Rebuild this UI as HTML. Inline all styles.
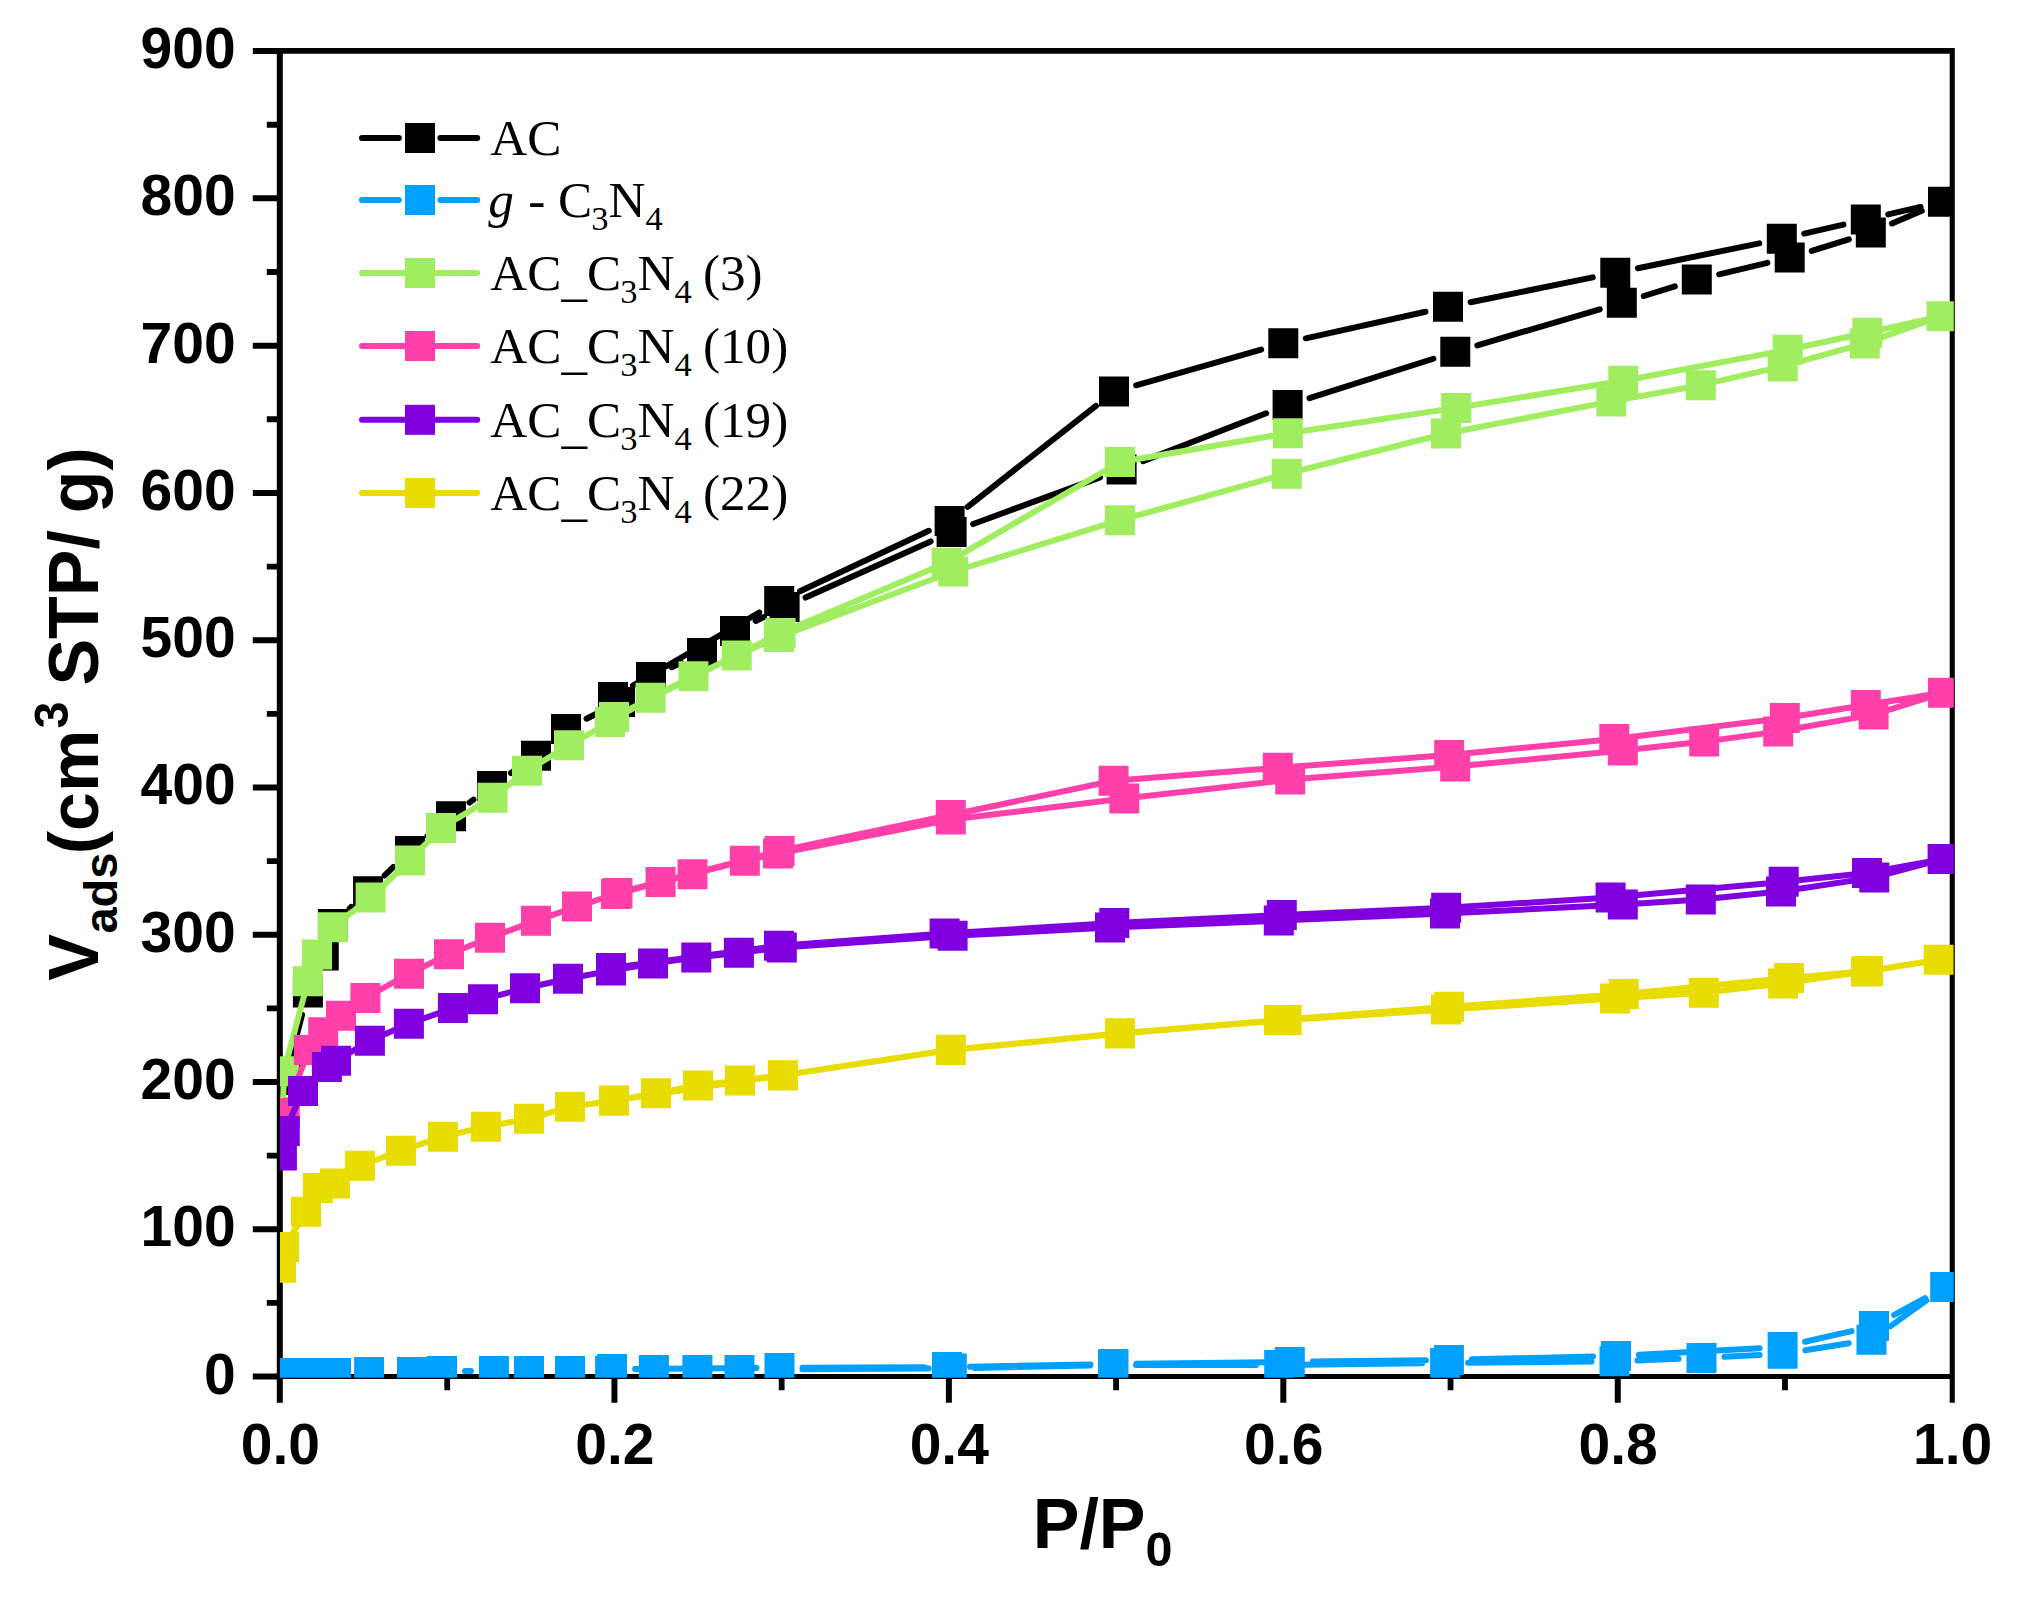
<!DOCTYPE html>
<html lang="en"><head><meta charset="utf-8"><title>N2 adsorption isotherms</title>
<style>html,body{margin:0;padding:0;background:#fff}body{width:2025px;height:1598px;overflow:hidden}svg{display:block}.t{font-family:"Liberation Sans",Arial,sans-serif;font-weight:bold;fill:#000}.l{font-family:"Liberation Serif","Times New Roman",serif;fill:#000}</style></head><body>
<svg width="2025" height="1598" viewBox="0 0 2025 1598">
<rect width="2025" height="1598" fill="#fff"/>
<defs><clipPath id="plot"><rect x="280" y="51" width="1673.8" height="1326.8"/></clipPath></defs>
<path d="M276.8 47.9h1678v5.9h-1678zM276.8 1374h1678v5h-1678zM276.8 47.9h6v1354.9h-6zM1949.7 47.9h5.1v1354.9h-5.1zM252.8 1373.5h24.2v6h-24.2zM252.8 1226.23h24.2v6h-24.2zM252.8 1078.97h24.2v6h-24.2zM252.8 931.7h24.2v6h-24.2zM252.8 784.43h24.2v6h-24.2zM252.8 637.17h24.2v6h-24.2zM252.8 489.9h24.2v6h-24.2zM252.8 342.63h24.2v6h-24.2zM252.8 195.37h24.2v6h-24.2zM252.8 48.1h24.2v6h-24.2zM266.8 1299.97h10.2v5.8h-10.2zM266.8 1152.7h10.2v5.8h-10.2zM266.8 1005.43h10.2v5.8h-10.2zM266.8 858.17h10.2v5.8h-10.2zM266.8 710.9h10.2v5.8h-10.2zM266.8 563.63h10.2v5.8h-10.2zM266.8 416.37h10.2v5.8h-10.2zM266.8 269.1h10.2v5.8h-10.2zM266.8 121.83h10.2v5.8h-10.2zM611.44 1379h6v23.8h-6zM945.88 1379h6v23.8h-6zM1280.32 1379h6v23.8h-6zM1614.76 1379h6v23.8h-6zM444.32 1379h5.8v11.2h-5.8zM778.76 1379h5.8v11.2h-5.8zM1113.2 1379h5.8v11.2h-5.8zM1447.64 1379h5.8v11.2h-5.8zM1782.08 1379h5.8v11.2h-5.8z" fill="#000"/>
<g class="t" font-size="57" text-anchor="end">
<text x="235.6" y="1393.5">0</text>
<text x="235.6" y="1246.23">100</text>
<text x="235.6" y="1098.97">200</text>
<text x="235.6" y="951.7">300</text>
<text x="235.6" y="804.43">400</text>
<text x="235.6" y="657.17">500</text>
<text x="235.6" y="509.9">600</text>
<text x="235.6" y="362.63">700</text>
<text x="235.6" y="215.37">800</text>
<text x="235.6" y="68.1">900</text>
</g>
<g class="t" font-size="57" text-anchor="middle">
<text x="280.4" y="1464.3">0.0</text>
<text x="614.84" y="1464.3">0.2</text>
<text x="949.28" y="1464.3">0.4</text>
<text x="1283.72" y="1464.3">0.6</text>
<text x="1618.16" y="1464.3">0.8</text>
<text x="1952.6" y="1464.3">1.0</text>
</g>
<text class="t" font-size="70" x="1032.7" y="1547.8">P/P<tspan font-size="48.5" dy="17.8">0</tspan></text>
<g class="t" transform="translate(98.2 980.8) rotate(-90)" font-size="70">
<text><tspan x="0" y="0">V</tspan><tspan x="47.2" y="18.6" font-size="47">ads</tspan><tspan x="126.6" y="0">(cm</tspan><tspan x="252.2" y="-29.8" font-size="48.5">3</tspan><tspan x="275.75" y="0"> STP/</tspan><tspan x="448.15" y="0"> g)</tspan></text>
</g>
<g clip-path="url(#plot)" fill="none" stroke-width="6" stroke-linecap="round" stroke-linejoin="round">
<path d="M290.82 1057.75 L302.08 1014.75M349.74 908.33 L351.26 906.92M384.69 875.32 L393.41 866.93M427.54 836.12 L433.46 831.08M469.52 802.56 L473.48 799.64M510.96 772.98 L517.04 768.82M586.57 718.71 L599.43 712.29M671.81 667.21 L681.19 662.79M755.7 620.98 L763.9 617.02M805.58 597.58 L930.62 541.42M973.18 524.05 L1100.02 477.35M1143.04 461.08 L1266.16 413.32M1309.52 398.05 L1433.38 358.75M1477.36 345.31 L1599.74 309.29M1643.77 296 L1674.83 286.4M1719.18 274.3 L1767.32 262.9M1811.67 250.8 L1848.83 239.3M1891.97 223.5 L1921.83 210.8M1920.58 206.94 L1888.22 214.36M1843.38 224.65 L1804.22 233.65M1759.27 243.4 L1637.83 268.2M1592.76 277.38 L1470.54 302.22M1425.54 311.78 L1305.76 338.32M1261.18 349.61 L1136.12 385.29M1095.93 405.83 L967.67 506.77M928.78 530.77 L800.02 591.23M759.28 612.5 L632.92 685.5" stroke="#000000"/>
<path d="M270 1065h30v30h-30zM292.9 977.5h30v30h-30zM308.75 940.6h30v30h-30zM317.9 909h30v30h-30zM353.1 876.25h30v30h-30zM395 836h30v30h-30zM436 801.2h30v30h-30zM477 771h30v30h-30zM521 740.8h30v30h-30zM551 714h30v30h-30zM605 687h30v30h-30zM636 662h30v30h-30zM687 638h30v30h-30zM720 616h30v30h-30zM769.6 592h30v30h-30zM936.6 517h30v30h-30zM1106.6 454.4h30v30h-30zM1272.6 390h30v30h-30zM1440.3 336.8h30v30h-30zM1606.8 287.8h30v30h-30zM1681.8 264.6h30v30h-30zM1774.7 242.6h30v30h-30zM1855.8 217.5h30v30h-30zM1928 186.8h30v30h-30zM1850.8 204.5h30v30h-30zM1766.8 223.8h30v30h-30zM1600.3 257.8h30v30h-30zM1433 291.8h30v30h-30zM1268.3 328.3h30v30h-30zM1099 376.6h30v30h-30zM934.6 506h30v30h-30zM764.2 586h30v30h-30zM598 682h30v30h-30z" fill="#000000" stroke="none"/>
<path d="M465 1371 L470.9 1371M802.5 1369.19 L928.8 1368.61M974.79 1368 L1090.01 1365.5M1136 1365 L1256.2 1365M1302.2 1364.72 L1422.1 1363.28M1468.1 1362.77 L1591.5 1361.53M1637.48 1360.4 L1678.52 1358.8M1724.47 1356.74 L1759.63 1354.96M1805.32 1350.2 L1848.78 1343.3M1890.21 1326.32 L1926.49 1300.38M1925.03 1298.05 L1894.17 1314.95M1851.58 1331.13 L1805.02 1341.77M1759.63 1348.15 L1638.97 1354.75M1593.01 1356.54 L1471.89 1359.36M1425.9 1360.19 L1312.8 1361.61M1266.8 1362.17 L1136.5 1363.73M1090.5 1364.43 L970 1366.67M924 1367.21 L802.5 1367.79M756.5 1368.06 L635.1 1368.94" stroke="#00A0FF"/>
<path d="M266 1358h30v30h-30zM269 1358h30v30h-30zM278 1358h30v30h-30zM291 1358h30v30h-30zM305 1358h30v30h-30zM321 1358h30v30h-30zM354.1 1357h30v30h-30zM397 1357h30v30h-30zM427 1356h30v30h-30zM478.9 1356h30v30h-30zM514 1356h30v30h-30zM555 1356h30v30h-30zM595.1 1356h30v30h-30zM638.9 1355.1h30v30h-30zM682.4 1355.1h30v30h-30zM724.5 1355.1h30v30h-30zM764.5 1354.3h30v30h-30zM936.8 1353.5h30v30h-30zM1098 1350h30v30h-30zM1264.2 1350h30v30h-30zM1430.1 1348h30v30h-30zM1599.5 1346.3h30v30h-30zM1686.5 1342.9h30v30h-30zM1767.6 1338.8h30v30h-30zM1856.5 1324.7h30v30h-30zM1930.2 1272h30v30h-30zM1859 1311h30v30h-30zM1767.6 1331.9h30v30h-30zM1601 1341h30v30h-30zM1433.9 1344.9h30v30h-30zM1274.8 1346.9h30v30h-30zM1098.5 1349h30v30h-30zM932 1352.1h30v30h-30zM764.5 1352.9h30v30h-30zM597.1 1354.1h30v30h-30z" fill="#00A0FF" stroke="none"/>
<path d="M282.8 1112 L284 1071.25 L307.9 981.25 L317 954.4 L332.9 927.2 L370.6 897.5 L410 860.6 L441 828 L492.5 797.7 L527 770.8 L569 745.3 L610 722 L650.6 697.8 L693.5 676.2 L736.7 655.5 L779 637 L953.2 571.5 L1120 520.2 L1286.8 473.7 L1446 433.5 L1611.3 401.4 L1700.8 385.2 L1782.7 366.4 L1864.8 343.4 L1941.6 316.2 L1867.3 332.8 L1787.7 349.8 L1623.3 380.8 L1456.2 407.9 L1287.8 433.2 L1120 462 L946.6 562.8 L780.6 633 L614 717" stroke="#A0EE60"/>
<path d="M267.8 1097h30v30h-30zM269 1056.25h30v30h-30zM292.9 966.25h30v30h-30zM302 939.4h30v30h-30zM317.9 912.2h30v30h-30zM355.6 882.5h30v30h-30zM395 845.6h30v30h-30zM426 813h30v30h-30zM477.5 782.7h30v30h-30zM512 755.8h30v30h-30zM554 730.3h30v30h-30zM595 707h30v30h-30zM635.6 682.8h30v30h-30zM678.5 661.2h30v30h-30zM721.7 640.5h30v30h-30zM764 622h30v30h-30zM938.2 556.5h30v30h-30zM1105 505.2h30v30h-30zM1271.8 458.7h30v30h-30zM1431 418.5h30v30h-30zM1596.3 386.4h30v30h-30zM1685.8 370.2h30v30h-30zM1767.7 351.4h30v30h-30zM1849.8 328.4h30v30h-30zM1926.6 301.2h30v30h-30zM1852.3 317.8h30v30h-30zM1772.7 334.8h30v30h-30zM1608.3 365.8h30v30h-30zM1441.2 392.9h30v30h-30zM1272.8 418.2h30v30h-30zM1105 447h30v30h-30zM931.6 547.8h30v30h-30zM765.6 618h30v30h-30zM599 702h30v30h-30z" fill="#A0EE60" stroke="none"/>
<path d="M284.75 1113.1 L308.9 1050 L323.2 1032.2 L341 1015.8 L365.4 997.9 L409 973.75 L449 954.3 L490 937.7 L536 920.7 L577 906.6 L616 894 L660.6 882.1 L692.5 874.2 L744.8 860.7 L778 853.6 L950.8 819.6 L1124.3 798.6 L1290.2 779.6 L1455.2 766.6 L1622.8 750.6 L1704.2 741.6 L1778.2 731.6 L1873.6 714.6 L1943 692.8 L1865.8 705 L1784.8 718 L1614.3 739 L1449.2 755 L1277.8 767.8 L1113.6 780.8 L950.8 815 L779.6 851 L617.5 893" stroke="#FF40AA"/>
<path d="M269.75 1098.1h30v30h-30zM293.9 1035h30v30h-30zM308.2 1017.2h30v30h-30zM326 1000.8h30v30h-30zM350.4 982.9h30v30h-30zM394 958.75h30v30h-30zM434 939.3h30v30h-30zM475 922.7h30v30h-30zM521 905.7h30v30h-30zM562 891.6h30v30h-30zM601 879h30v30h-30zM645.6 867.1h30v30h-30zM677.5 859.2h30v30h-30zM729.8 845.7h30v30h-30zM763 838.6h30v30h-30zM935.8 804.6h30v30h-30zM1109.3 783.6h30v30h-30zM1275.2 764.6h30v30h-30zM1440.2 751.6h30v30h-30zM1607.8 735.6h30v30h-30zM1689.2 726.6h30v30h-30zM1763.2 716.6h30v30h-30zM1858.6 699.6h30v30h-30zM1928 677.8h30v30h-30zM1850.8 690h30v30h-30zM1769.8 703h30v30h-30zM1599.3 724h30v30h-30zM1434.2 740h30v30h-30zM1262.8 752.8h30v30h-30zM1098.6 765.8h30v30h-30zM935.8 800h30v30h-30zM764.6 836h30v30h-30zM602.5 878h30v30h-30z" fill="#FF40AA" stroke="none"/>
<path d="M281.9 1155.6 L284.75 1131 L303 1090.9 L326.9 1066.9 L336 1060.8 L369.9 1040.8 L408.9 1023.8 L452.9 1008 L483 999.3 L525 988.3 L568 978.8 L611 970.6 L653 963.5 L696.3 957.4 L738.9 952.7 L781.8 947.6 L952.6 935.8 L1110 927.6 L1278.8 920.6 L1445 913.5 L1622.8 904.6 L1700.8 899.6 L1781 891.5 L1874.3 877.4 L1942.6 859.1 L1867 873 L1783.7 881.8 L1610.6 897.6 L1446.2 907.8 L1281.8 915 L1114.3 923 L944.6 933.5 L779 945.8 L611 968" stroke="#8000E0"/>
<path d="M266.9 1140.6h30v30h-30zM269.75 1116h30v30h-30zM288 1075.9h30v30h-30zM311.9 1051.9h30v30h-30zM321 1045.8h30v30h-30zM354.9 1025.8h30v30h-30zM393.9 1008.8h30v30h-30zM437.9 993h30v30h-30zM468 984.3h30v30h-30zM510 973.3h30v30h-30zM553 963.8h30v30h-30zM596 955.6h30v30h-30zM638 948.5h30v30h-30zM681.3 942.4h30v30h-30zM723.9 937.7h30v30h-30zM766.8 932.6h30v30h-30zM937.6 920.8h30v30h-30zM1095 912.6h30v30h-30zM1263.8 905.6h30v30h-30zM1430 898.5h30v30h-30zM1607.8 889.6h30v30h-30zM1685.8 884.6h30v30h-30zM1766 876.5h30v30h-30zM1859.3 862.4h30v30h-30zM1927.6 844.1h30v30h-30zM1852 858h30v30h-30zM1768.7 866.8h30v30h-30zM1595.6 882.6h30v30h-30zM1431.2 892.8h30v30h-30zM1266.8 900h30v30h-30zM1099.3 908h30v30h-30zM929.6 918.5h30v30h-30zM764 930.8h30v30h-30zM596 953h30v30h-30z" fill="#8000E0" stroke="none"/>
<path d="M281 1267.75 L284 1246.9 L306 1211.8 L317.8 1188 L334.9 1183.6 L359.9 1165.75 L400.9 1150.8 L442.9 1136.7 L485.9 1126.7 L529 1118.8 L570 1106.7 L614 1100.8 L656 1093.3 L698 1085.4 L740 1080.4 L782.9 1075.4 L950.8 1050.1 L1120 1033.6 L1286.6 1020.1 L1446 1009.6 L1615 998.6 L1703.8 992.8 L1783.1 983.4 L1866 971.6 L1938.7 959.8 L1868 971 L1789 977.9 L1623.7 994 L1449 1006.8 L1279 1020.1 L1120 1033.2 L950.8 1049.8 L782.9 1075.2 L614 1100.6" stroke="#E8DC00"/>
<path d="M266 1252.75h30v30h-30zM269 1231.9h30v30h-30zM291 1196.8h30v30h-30zM302.8 1173h30v30h-30zM319.9 1168.6h30v30h-30zM344.9 1150.75h30v30h-30zM385.9 1135.8h30v30h-30zM427.9 1121.7h30v30h-30zM470.9 1111.7h30v30h-30zM514 1103.8h30v30h-30zM555 1091.7h30v30h-30zM599 1085.8h30v30h-30zM641 1078.3h30v30h-30zM683 1070.4h30v30h-30zM725 1065.4h30v30h-30zM767.9 1060.4h30v30h-30zM935.8 1035.1h30v30h-30zM1105 1018.6h30v30h-30zM1271.6 1005.1h30v30h-30zM1431 994.6h30v30h-30zM1600 983.6h30v30h-30zM1688.8 977.8h30v30h-30zM1768.1 968.4h30v30h-30zM1851 956.6h30v30h-30zM1923.7 944.8h30v30h-30zM1853 956h30v30h-30zM1774 962.9h30v30h-30zM1608.7 979h30v30h-30zM1434 991.8h30v30h-30zM1264 1005.1h30v30h-30zM1105 1018.2h30v30h-30zM935.8 1034.8h30v30h-30zM767.9 1060.2h30v30h-30zM599 1085.6h30v30h-30z" fill="#E8DC00" stroke="none"/>
</g>
<g fill="none" stroke-width="6" stroke-linecap="round">
<path d="M362 138 H398.8 M440.4 138 H477.2" stroke="#000000"/>
<rect x="405" y="123" width="30" height="30" fill="#000000" stroke="none"/>
<path d="M362 200 H398.8 M440.4 200 H477.2" stroke="#00A0FF"/>
<rect x="405" y="185" width="30" height="30" fill="#00A0FF" stroke="none"/>
<path d="M362 273 H477.2" stroke="#A0EE60"/>
<rect x="405" y="258" width="30" height="30" fill="#A0EE60" stroke="none"/>
<path d="M362 346 H477.2" stroke="#FF40AA"/>
<rect x="405" y="331" width="30" height="30" fill="#FF40AA" stroke="none"/>
<path d="M362 419.8 H477.2" stroke="#8000E0"/>
<rect x="405" y="404.8" width="30" height="30" fill="#8000E0" stroke="none"/>
<path d="M362 493 H477.2" stroke="#E8DC00"/>
<rect x="405" y="478" width="30" height="30" fill="#E8DC00" stroke="none"/>
</g>
<g class="l" font-size="51.2">
<text x="490.3" y="155.1">AC</text>
<text x="490.3" y="217.1"><tspan font-style="italic" dx="-2">g</tspan><tspan dx="1.6"> - C</tspan><tspan font-size="34.5" dy="13" dx="-1">3</tspan><tspan dy="-13">N</tspan><tspan font-size="34.5" dy="13">4</tspan></text>
<text x="490.3" y="290.1">AC<tspan dy="4.6">_</tspan><tspan dy="-4.6">C</tspan><tspan font-size="34.5" dy="13" dx="-1">3</tspan><tspan dy="-13">N</tspan><tspan font-size="34.5" dy="13">4</tspan><tspan dy="-13" dx="-1.5"> (3)</tspan></text>
<text x="490.3" y="363.1">AC<tspan dy="4.6">_</tspan><tspan dy="-4.6">C</tspan><tspan font-size="34.5" dy="13" dx="-1">3</tspan><tspan dy="-13">N</tspan><tspan font-size="34.5" dy="13">4</tspan><tspan dy="-13" dx="-1.5"> (10)</tspan></text>
<text x="490.3" y="436.9">AC<tspan dy="4.6">_</tspan><tspan dy="-4.6">C</tspan><tspan font-size="34.5" dy="13" dx="-1">3</tspan><tspan dy="-13">N</tspan><tspan font-size="34.5" dy="13">4</tspan><tspan dy="-13" dx="-1.5"> (19)</tspan></text>
<text x="490.3" y="510.1">AC<tspan dy="4.6">_</tspan><tspan dy="-4.6">C</tspan><tspan font-size="34.5" dy="13" dx="-1">3</tspan><tspan dy="-13">N</tspan><tspan font-size="34.5" dy="13">4</tspan><tspan dy="-13" dx="-1.5"> (22)</tspan></text>
</g>
</svg></body></html>
